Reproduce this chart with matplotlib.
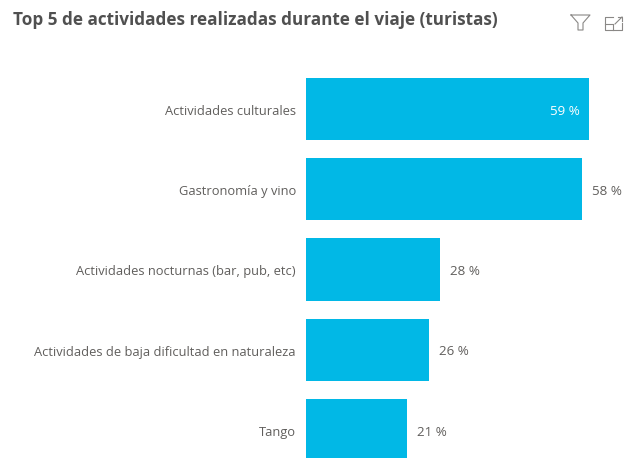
import matplotlib
matplotlib.use("Agg")
import matplotlib.pyplot as plt
from matplotlib.lines import Line2D
from matplotlib.transforms import ScaledTranslation

plt.rcParams['font.family'] = ['Open Sans', 'DejaVu Sans']

categories = ["Actividades culturales", "Gastronomía y vino", "Actividades nocturnas (bar, pub, etc)",
              "Actividades de baja dificultad en naturaleza", "Tango"]
values = [59, 57.5, 28, 25.7, 21]
value_labels = ["59 %", "58 %", "28 %", "26 %", "21 %"]

W, H = 624, 458
BAR_COLOR = "#01B8E6"
TEXT_COLOR = "#605E5C"

fig = plt.figure(figsize=(W / 100, H / 100), dpi=100)

# axes in pixels: left edge 306, runs to the right and bottom of the picture
ax = fig.add_axes([306 / W, 0, (W - 306) / W, (H - 48) / H])
ax.barh(range(len(categories)), values, height=0.773, color=BAR_COLOR)
ax.set_xlim(0, (W - 306) / 4.8)
ax.set_ylim((H - 109) / 80.25, (48 - 109) / 80.25)

ax.set_yticks(range(len(categories)))
ax.set_yticklabels(categories, fontsize=9.3, color=TEXT_COLOR)
ax.tick_params(axis="y", length=0, pad=7.2)
ax.xaxis.set_visible(False)
for s in ax.spines.values():
    s.set_visible(False)
# nudge tick labels down a pixel
nudge = ScaledTranslation(0, -1 / 100, fig.dpi_scale_trans)
for lab in ax.get_yticklabels():
    lab.set_transform(lab.get_transform() + nudge)

# first label sits inside the bar, the others outside
for i, (v, lab) in enumerate(zip(values, value_labels)):
    if i == 0:
        ax.annotate(lab, (v, i), xytext=(-6.5, -1.5), textcoords="offset points",
                    ha="right", va="center", fontsize=9.6, color="white")
    else:
        ax.annotate(lab, (v, i), xytext=(7, -1.5), textcoords="offset points",
                    ha="left", va="center", fontsize=9.6, color=TEXT_COLOR)

fig.text(13 / W, 1 - 20 / H, "Top 5 de actividades realizadas durante el viaje (turistas)",
         fontsize=12.3, fontweight="bold", color="#505050", ha="left", va="center")


def px_line(xs, ys, lw=1.0):
    fig.add_artist(Line2D([x / W for x in xs], [1 - y / H for y in ys],
                          transform=fig.transFigure, color="#8A8886", lw=lw))


# filter icon
px_line([571, 590, 583, 583, 578, 578, 571], [15, 15, 23, 30, 30, 23, 15], 0.8)
# focus mode icon
px_line([613, 605, 605, 622, 622], [17, 17, 30, 30, 23], 0.8)
px_line([605, 613, 613], [24, 24, 30], 0.8)
px_line([615, 622], [24, 17], 0.8)
px_line([618, 622, 622], [17, 17, 21], 0.8)

fig.savefig("out.png", dpi=100)
